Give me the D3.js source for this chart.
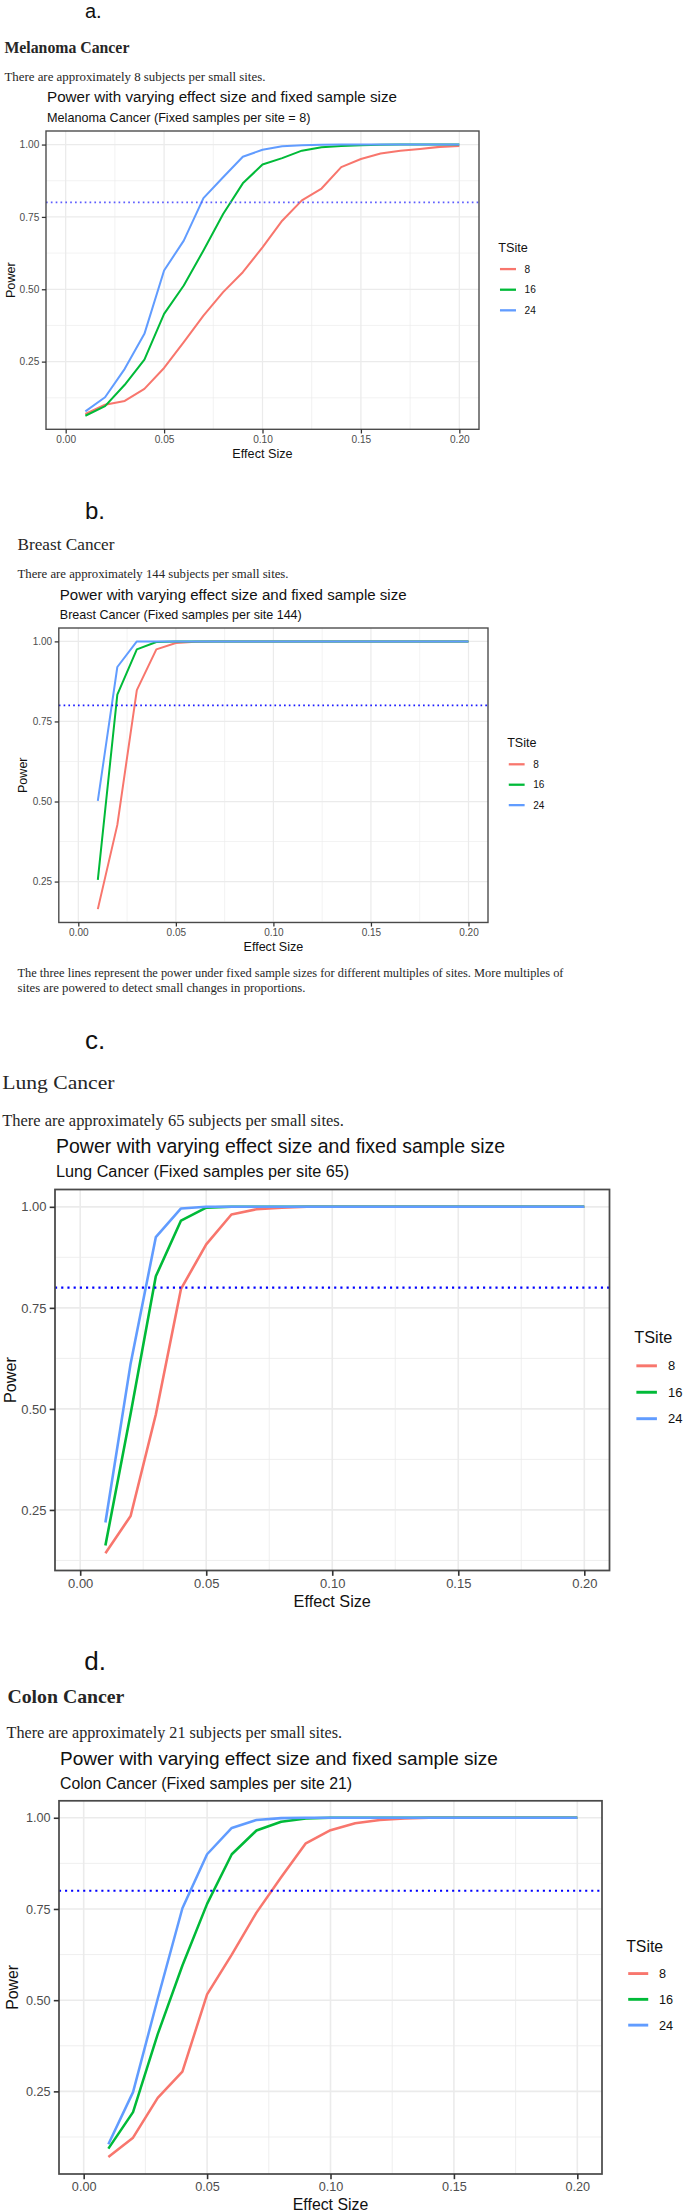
<!DOCTYPE html>
<html><head><meta charset="utf-8">
<script src="https://cdn.jsdelivr.net/npm/d3@7/dist/d3.min.js"></script>
<style>body{margin:0;background:#fff;} svg{display:block;}</style>
</head><body>
<svg id="chart" width="685" height="2212"></svg>
<script>
// ---------------- data ----------------
const effectSize = [0.01,0.02,0.03,0.04,0.05,0.06,0.07,0.08,0.09,0.10,0.11,0.12,0.13,0.14,0.15,0.16,0.17,0.18,0.19,0.20];
const siteLevels = ["8","16","24"];
const xLimits = [0, 0.20];
const xTicks = [0, 0.05, 0.10, 0.15, 0.20];
const xMinor = [0.025, 0.075, 0.125, 0.175];
const yTicks = [0.25, 0.50, 0.75, 1.00];
const yMinor = [0.125, 0.375, 0.625, 0.875];
const powerTarget = 0.8;

const melanoma8  = [0.069,0.101,0.114,0.156,0.228,0.317,0.409,0.490,0.559,0.645,0.737,0.807,0.848,0.922,0.950,0.969,0.979,0.985,0.992,0.995];
const melanoma16 = [0.063,0.096,0.170,0.257,0.415,0.513,0.634,0.760,0.866,0.931,0.953,0.979,0.991,0.995,0.998,0.999,1,1,1,1];
const melanoma24 = [0.078,0.127,0.225,0.346,0.565,0.668,0.815,0.887,0.958,0.982,0.994,0.998,0.999,1,1,1,1,1,1,1];

const breast8  = [0.164,0.427,0.848,0.975,0.995,0.999,1,1,1,1,1,1,1,1,1,1,1,1,1,1];
const breast16 = [0.255,0.834,0.975,0.998,1,1,1,1,1,1,1,1,1,1,1,1,1,1,1,1];
const breast24 = [0.502,0.920,1,1,1,1,1,1,1,1,1,1,1,1,1,1,1,1,1,1];

const lung8  = [0.143,0.235,0.486,0.797,0.907,0.981,0.994,0.998,1,1,1,1,1,1,1,1,1,1,1,1];
const lung16 = [0.162,0.488,0.828,0.966,0.998,1,1,1,1,1,1,1,1,1,1,1,1,1,1,1];
const lung24 = [0.219,0.612,0.925,0.996,1,1,1,1,1,1,1,1,1,1,1,1,1,1,1,1];

const colon8  = [0.070,0.123,0.232,0.304,0.516,0.625,0.740,0.837,0.930,0.966,0.985,0.994,0.998,1,1,1,1,1,1,1];
const colon16 = [0.093,0.193,0.407,0.595,0.764,0.900,0.965,0.989,0.998,1,1,1,1,1,1,1,1,1,1,1];
const colon24 = [0.105,0.248,0.504,0.752,0.900,0.972,0.994,0.999,1,1,1,1,1,1,1,1,1,1,1,1];

const panelLetters = ["a.","b.","c.","d."];
const headings = ["Melanoma Cancer","Breast Cancer","Lung Cancer","Colon Cancer"];
const notes = ["There are approximately 8 subjects per small sites.",
               "There are approximately 144 subjects per small sites.",
               "There are approximately 65 subjects per small sites.",
               "There are approximately 21 subjects per small sites."];
const plotTitle = "Power with varying effect size and fixed sample size";
const subtitles = ["Melanoma Cancer (Fixed samples per site = 8)",
                   "Breast Cancer (Fixed samples per site 144)",
                   "Lung Cancer (Fixed samples per site 65)",
                   "Colon Cancer (Fixed samples per site 21)"];
const footnote = ["The three lines represent the power under fixed sample sizes for different multiples of sites. More multiples of",
                  "sites are powered to detect small changes in proportions."];
const seriesByPanel = [
  [melanoma8, melanoma16, melanoma24],
  [breast8, breast16, breast24],
  [lung8, lung16, lung24],
  [colon8, colon16, colon24]
];

// ---------------- layout / style ----------------
const siteColors = ["#F8766D","#00BA38","#619CFF"];
const layouts = [
  {box:[46,131,479,429.3], k:1.152, hline:"#5c5cff",
   letter:{x:85,y:18,fs:20}, head:{x:4.4,y:47.3,w:125,fs:16.5,bold:true}, body:{x:4.4,y:77,w:261,fs:12.6}},
  {box:[58.8,628,488,922.5], k:1.141, hline:"#1a1aff",
   letter:{x:85,y:519.3,fs:24}, head:{x:17.5,y:545,w:97,fs:16,bold:false}, body:{x:17.5,y:574.3,w:271,fs:12.6}},
  {box:[55,1189.5,609.5,1570.5], k:1.477, hline:"#0000ff",
   letter:{x:85,y:1049.3,fs:26}, head:{x:2.2,y:1082.5,w:112.3,fs:19.5,bold:false}, body:{x:2.2,y:1120.4,w:341.6,fs:16}},
  {box:[59,1800.8,602,2174], k:1.44, hline:"#0000ff",
   letter:{x:84.3,y:1670,fs:26}, head:{x:7.4,y:1696.5,w:117,fs:19,bold:true}, body:{x:6.6,y:1733.1,w:335.4,fs:16}}
];
const footLayout = {x:17.5, y:[973.2, 987.5], w:[546, 288], fs:12.3};

const SANS = "'Liberation Sans', Arial, Helvetica, sans-serif";
const SERIF = "'Liberation Serif', 'Times New Roman', serif";

const svg = d3.select("#chart");

function serifText(t, x, y, w, fs, bold){
  svg.append("text").attr("x", x).attr("y", y).attr("dy","0.33em")
    .attr("font-family", SERIF).attr("font-size", fs).attr("fill", "#262626")
    .attr("font-weight", bold ? "bold" : "normal")
    .attr("textLength", w).attr("lengthAdjust","spacingAndGlyphs").text(t);
}

function drawPanel(i){
  const L = layouts[i];
  const k = L.k;
  const [x0,y0,x1,y1] = L.box;
  const series = seriesByPanel[i];

  // page text
  svg.append("text").attr("x", L.letter.x).attr("y", L.letter.y)
    .attr("font-family", SANS).attr("font-size", L.letter.fs).attr("fill","#111").text(panelLetters[i]);
  serifText(headings[i], L.head.x, L.head.y, L.head.w, L.head.fs, L.head.bold);
  serifText(notes[i], L.body.x, L.body.y, L.body.w, L.body.fs, false);

  // scales (ggplot style 5% expansion)
  const lo = d3.min(series.flat()), hi = d3.max(series.flat());
  const padY = 0.05*(hi-lo), padX = 0.05*(xLimits[1]-xLimits[0]);
  const xs = d3.scaleLinear().domain([xLimits[0]-padX, xLimits[1]+padX]).range([x0,x1]);
  const ys = d3.scaleLinear().domain([lo-padY, hi+padY]).range([y1,y0]);

  // titles
  svg.append("text").attr("x", x0+1).attr("y", y0-29.3*k).attr("dy","0.33em")
    .attr("font-family", SANS).attr("font-size", 13.2*k).attr("fill","#111").text(plotTitle);
  svg.append("text").attr("x", x0+1).attr("y", y0-11.8*k).attr("dy","0.33em")
    .attr("font-family", SANS).attr("font-size", 11*k).attr("fill","#111").text(subtitles[i]);

  const g = svg.append("g");
  // grid
  const yIn = v => v >= ys.domain()[0] && v <= ys.domain()[1];
  g.selectAll(".xminor").data(xMinor).join("line")
    .attr("x1", d=>xs(d)).attr("x2", d=>xs(d)).attr("y1", y0).attr("y2", y1)
    .attr("stroke","#EBEBEB").attr("stroke-width", 0.55*k);
  g.selectAll(".yminor").data(yMinor.filter(yIn)).join("line")
    .attr("y1", d=>ys(d)).attr("y2", d=>ys(d)).attr("x1", x0).attr("x2", x1)
    .attr("stroke","#EBEBEB").attr("stroke-width", 0.55*k);
  g.selectAll(".xmajor").data(xTicks).join("line")
    .attr("x1", d=>xs(d)).attr("x2", d=>xs(d)).attr("y1", y0).attr("y2", y1)
    .attr("stroke","#EBEBEB").attr("stroke-width", 1.1*k);
  g.selectAll(".ymajor").data(yTicks.filter(yIn)).join("line")
    .attr("y1", d=>ys(d)).attr("y2", d=>ys(d)).attr("x1", x0).attr("x2", x1)
    .attr("stroke","#EBEBEB").attr("stroke-width", 1.1*k);

  // series lines
  const line = d3.line().x(d=>xs(d[0])).y(d=>ys(d[1]));
  series.forEach((vals, s) => {
    g.append("path").datum(effectSize.map((e,j)=>[e, vals[j]]))
      .attr("d", line).attr("fill","none").attr("stroke", siteColors[s])
      .attr("stroke-width", 1.75*k).attr("stroke-linejoin","round").attr("stroke-linecap","butt");
  });

  // target power line
  g.append("line").attr("x1", x0).attr("x2", x1).attr("y1", ys(powerTarget)).attr("y2", ys(powerTarget))
    .attr("stroke", L.hline).attr("stroke-width", 1.45*k)
    .attr("stroke-dasharray", `${1.45*k},${2.75*k}`);

  // border
  g.append("rect").attr("x", x0).attr("y", y0).attr("width", x1-x0).attr("height", y1-y0)
    .attr("fill","none").attr("stroke","#4a4a4a").attr("stroke-width", 1.2*k);

  // axes
  const gx = svg.append("g").attr("transform", `translate(0,${y1})`)
    .call(d3.axisBottom(xs).tickValues(xTicks).tickFormat(d3.format(".2f")).tickSize(3.6*k).tickPadding(2.0*k));
  const gy = svg.append("g").attr("transform", `translate(${x0},0)`)
    .call(d3.axisLeft(ys).tickValues(yTicks).tickFormat(d3.format(".2f")).tickSize(3.6*k).tickPadding(2.2*k));
  [gx, gy].forEach(ax => {
    ax.select(".domain").remove();
    ax.selectAll(".tick line").attr("stroke","#333").attr("stroke-width", 1.1*k);
    ax.selectAll(".tick text").attr("fill","#4D4D4D").attr("font-family", SANS).attr("font-size", 8.8*k);
  });

  // axis titles
  svg.append("text").attr("x", (x0+x1)/2).attr("y", y1+21.1*k).attr("dy","0.35em")
    .attr("text-anchor","middle").attr("font-family", SANS).attr("font-size", 11*k).attr("fill","#111").text("Effect Size");
  const my = (y0+y1)/2;
  const powerX = Math.max(x0-32*k, 10.5);
  svg.append("text").attr("transform", `translate(${powerX},${my}) rotate(-90)`).attr("dy","0.35em")
    .attr("text-anchor","middle").attr("font-family", SANS).attr("font-size", 11*k).attr("fill","#111").text("Power");

  // legend
  const lx = x1 + 16.8*k;
  svg.append("text").attr("x", lx).attr("y", my-28.6*k).attr("dy","0.35em")
    .attr("font-family", SANS).attr("font-size", 11*k).attr("fill","#111").text("TSite");
  siteLevels.forEach((lab, s) => {
    const yy = my + (-9.6 + s*17.9)*k;
    svg.append("line").attr("x1", lx+1.4*k).attr("x2", lx+15.3*k).attr("y1", yy).attr("y2", yy)
      .attr("stroke", siteColors[s]).attr("stroke-width", 2.0*k);
    svg.append("text").attr("x", lx+22.8*k).attr("y", yy).attr("dy","0.35em")
      .attr("font-family", SANS).attr("font-size", 8.8*k).attr("fill","#111").text(lab);
  });
}

for (let i = 0; i < 4; i++) drawPanel(i);

footnote.forEach((t, j) => serifText(t, footLayout.x, footLayout.y[j], footLayout.w[j], footLayout.fs, false));
</script>
</body></html>
